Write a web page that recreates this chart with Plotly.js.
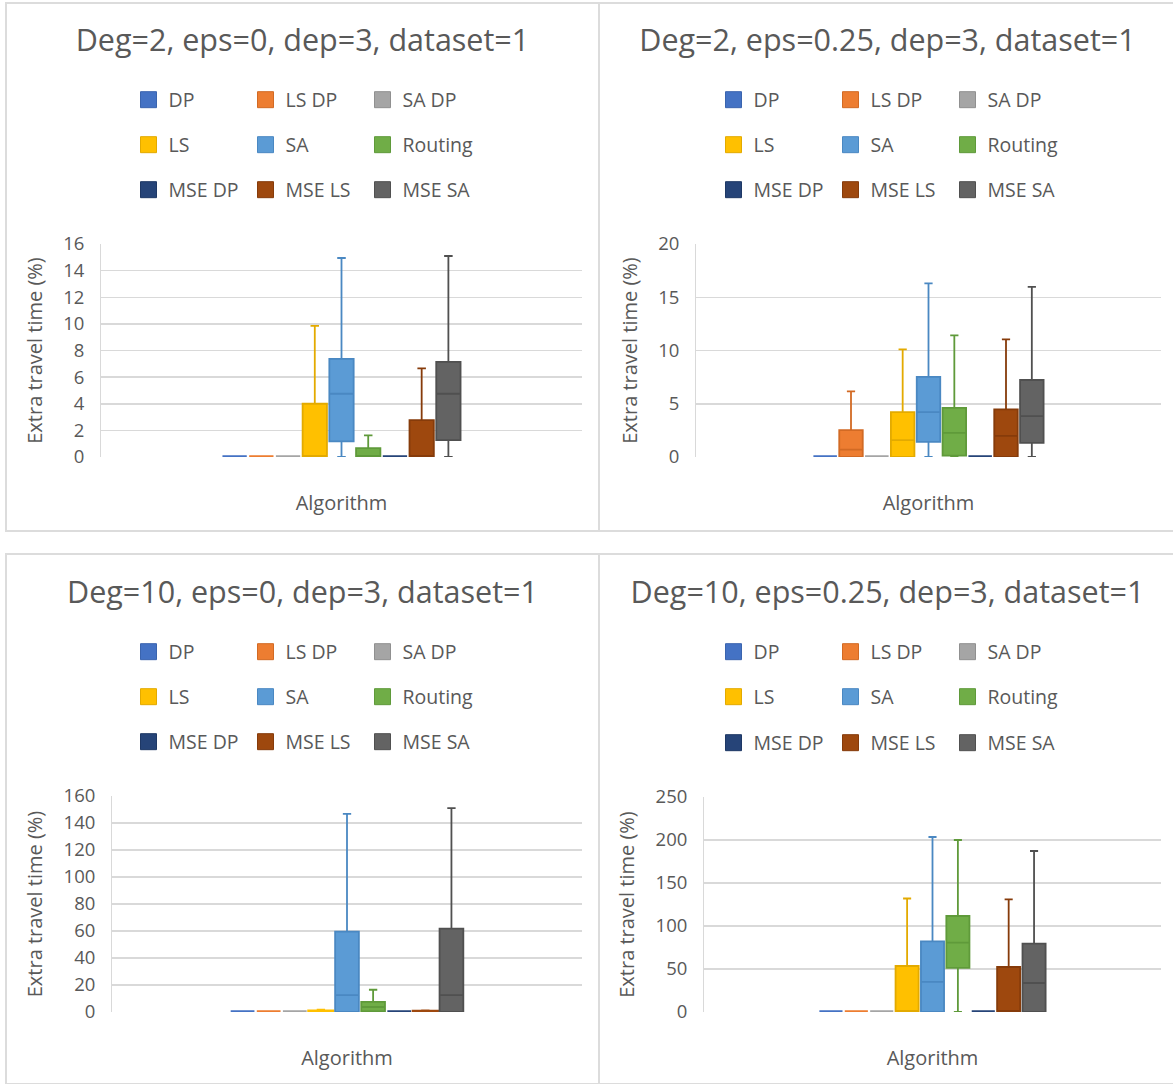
<!DOCTYPE html>
<html><head><meta charset="utf-8">
<script src="https://cdn.plot.ly/plotly-3.0.1.min.js"></script>
<style>
html,body{margin:0;padding:0;background:#fff;overflow:hidden;width:1173px;height:1084px;}
.panel{position:absolute;box-sizing:border-box;border:2px solid #dcdcdc;background:#fff;overflow:hidden;}
</style></head><body>
<div class="panel" style="left:5px;top:2px;width:595px;height:530px;"><div id="p1"></div></div>
<div class="panel" style="left:598px;top:2px;width:579px;height:530px;"><div id="p2"></div></div>
<div class="panel" style="left:5px;top:553px;width:595px;height:532px;"><div id="p3"></div></div>
<div class="panel" style="left:598px;top:553px;width:579px;height:532px;"><div id="p4"></div></div>
<script>
// ---------- data ----------
const SERIES = ['DP', 'LS DP', 'SA DP', 'LS', 'SA', 'Routing', 'MSE DP', 'MSE LS', 'MSE SA'];
const CATEGORY = ['Algorithm'];
const X_TITLE = 'Algorithm';
const Y_TITLE = 'Extra travel time (%)';

// Panel 1: Deg=2, eps=0
const p1Title = 'Deg=2, eps=0, dep=3, dataset=1';
const p1Min = [0, 0, 0, 0, 0, 0, 0, 0, 0];
const p1Q1  = [0, 0, 0, 0, 1.17, 0, 0, 0, 1.27];
const p1Med = [0, 0, 0, 0, 4.75, 0, 0, 0, 4.75];
const p1Q3  = [0, 0, 0, 4.0, 7.37, 0.67, 0, 2.77, 7.15];
const p1Max = [0, 0, 0, 9.85, 14.95, 1.62, 0, 6.65, 15.1];
const p1Ticks = [0, 2, 4, 6, 8, 10, 12, 14, 16];

// Panel 2: Deg=2, eps=0.25
const p2Title = 'Deg=2, eps=0.25, dep=3, dataset=1';
const p2Min = [0, 0, 0, 0, 0, 0, 0, 0, 0];
const p2Q1  = [0, 0, 0, 0, 1.42, 0.13, 0, 0, 1.32];
const p2Med = [0, 0.7, 0, 1.58, 4.22, 2.27, 0, 1.98, 3.84];
const p2Q3  = [0, 2.52, 0, 4.22, 7.52, 4.62, 0, 4.47, 7.23];
const p2Max = [0, 6.17, 0, 10.1, 16.3, 11.42, 0, 11.04, 15.98];
const p2Ticks = [0, 5, 10, 15, 20];

// Panel 3: Deg=10, eps=0
const p3Title = 'Deg=10, eps=0, dep=3, dataset=1';
const p3Min = [0, 0, 0, 0, 0, 0, 0, 0, 0];
const p3Q1  = [0, 0, 0, 0, 0, 0.5, 0, 0, 0];
const p3Med = [0, 0, 0, 0, 12.5, 3.7, 0, 0, 12.5];
const p3Q3  = [0, 0, 0, 0.6, 59.5, 7.5, 0, 0.3, 61.7];
const p3Max = [0, 0, 0, 1.2, 146.8, 16.5, 0, 0.6, 151];
const p3Ticks = [0, 20, 40, 60, 80, 100, 120, 140, 160];

// Panel 4: Deg=10, eps=0.25
const p4Title = 'Deg=10, eps=0.25, dep=3, dataset=1';
const p4Min = [0, 0, 0, 0, 0, 0, 0, 0, 0];
const p4Q1  = [0, 0, 0, 0, 0, 51.2, 0, 0, 0];
const p4Med = [0, 0, 0, 0, 35, 80.7, 0, 0, 33.7];
const p4Q3  = [0, 0, 0, 53.5, 82.2, 111.6, 0, 52.3, 79.5];
const p4Max = [0, 0, 0, 132, 203.5, 200, 0, 131, 187.2];
const p4Ticks = [0, 50, 100, 150, 200, 250];

// ---------- style ----------
const FILL = ['#4472C4', '#ED7D31', '#A5A5A5', '#FFC000', '#5B9BD5', '#70AD47', '#264478', '#9E480E', '#636363'];
const EDGE = ['#3A64AE', '#D26A24', '#909090', '#E3AA00', '#4A88C2', '#5F9A3A', '#1E3865', '#863B0A', '#505050'];
const TXT = '#595959';
const GRID = '#d9d9d9';
const FONT = 'Open Sans, sans-serif';

function legendRow(row, cfg) {
  return {
    orientation: 'h', xref: 'container', yref: 'container',
    x: cfg.legX / cfg.W, xanchor: 'left',
    y: 1 - cfg.legY[row] / cfg.H, yanchor: 'middle',
    entrywidth: 72, entrywidthmode: 'pixels', itemsizing: 'trace',
    font: {family: FONT, size: 19.5, color: TXT},
    bgcolor: 'rgba(0,0,0,0)', borderwidth: 0, traceorder: 'normal'
  };
}

function makePanel(id, d, cfg) {
  const legendIds = ['legend', 'legend2', 'legend3'];
  const boxes = SERIES.map((name, i) => {
    const flat = d.q3[i] - d.q1[i] < 0.01 * d.ticks[d.ticks.length - 1];
    return {
      type: 'box', name: name, x: CATEGORY,
      q1: [d.q1[i]], median: [d.med[i]], q3: [d.q3[i]],
      lowerfence: [d.min[i]], upperfence: [d.max[i]],
      fillcolor: FILL[i], line: {color: flat ? FILL[i] : EDGE[i], width: flat ? 3.5 : 1.8},
      whiskerwidth: 0.35, boxpoints: false, hoverinfo: 'skip',
      showlegend: false
    };
  });
  // legend keys (square swatches like the original), no data drawn
  const keys = SERIES.map((name, i) => ({
    type: 'scatter', mode: 'markers', name: name, x: [null], y: [null],
    marker: {symbol: 'square', size: 16, color: FILL[i], line: {color: EDGE[i], width: 1}},
    hoverinfo: 'skip', showlegend: true, legend: legendIds[Math.floor(i / 3)]
  }));
  const ticks = d.ticks;
  const layout = {
    width: cfg.W, height: cfg.H,
    margin: {l: cfg.l, r: cfg.r, t: cfg.t, b: cfg.b, pad: 0},
    paper_bgcolor: '#ffffff', plot_bgcolor: '#ffffff',
    font: {family: FONT, color: TXT},
    title: {text: d.title, xref: 'container', yref: 'container', x: 0.5, xanchor: 'center',
            y: 1 - cfg.titleY / cfg.H, yanchor: 'middle', font: {family: FONT, size: 30.5, color: TXT}},
    boxmode: 'group', boxgap: 0.5, boxgroupgap: 0.09,
    showlegend: true,
    legend: legendRow(0, cfg), legend2: legendRow(1, cfg), legend3: legendRow(2, cfg),
    xaxis: {type: 'category', range: [-0.5, 0.5], showticklabels: false, showgrid: false,
            zeroline: false, showline: false, ticks: '', fixedrange: true,
            title: {text: X_TITLE, font: {family: FONT, size: 20, color: TXT}, standoff: cfg.xStand}},
    yaxis: {range: [ticks[0], ticks[ticks.length - 1]], tickvals: ticks, ticktext: ticks.map(String),
            showgrid: true, gridcolor: GRID, gridwidth: 1.5, zeroline: false,
            showline: true, linecolor: GRID, linewidth: 1,
            ticks: 'outside', ticklen: 12, tickcolor: 'rgba(0,0,0,0)',
            tickfont: {family: FONT, size: 18.5, color: TXT}, fixedrange: true,
            title: {text: Y_TITLE, font: {family: FONT, size: 20, color: TXT}, standoff: cfg.yStand}}
  };
  Plotly.newPlot(id, boxes.concat(keys), layout, {staticPlot: true, displayModeBar: false});
}

makePanel('p1', {title: p1Title, min: p1Min, q1: p1Q1, med: p1Med, q3: p1Q3, max: p1Max, ticks: p1Ticks},
  {W: 591, H: 526, l: 94, r: 16, t: 240, b: 73, legX: 121.5, legY: [96, 141, 186], titleY: 36, xStand: 38, yStand: 15});
makePanel('p2', {title: p2Title, min: p2Min, q1: p2Q1, med: p2Med, q3: p2Q3, max: p2Max, ticks: p2Ticks},
  {W: 575, H: 526, l: 96, r: 14, t: 240, b: 73, legX: 113.5, legY: [96, 141, 186], titleY: 36, xStand: 38, yStand: 15});
makePanel('p3', {title: p3Title, min: p3Min, q1: p3Q1, med: p3Med, q3: p3Q3, max: p3Max, ticks: p3Ticks},
  {W: 591, H: 528, l: 105, r: 16, t: 241, b: 71, legX: 121.5, legY: [97, 142, 187], titleY: 37, xStand: 38, yStand: 15});
makePanel('p4', {title: p4Title, min: p4Min, q1: p4Q1, med: p4Med, q3: p4Q3, max: p4Max, ticks: p4Ticks},
  {W: 575, H: 528, l: 104, r: 14, t: 242, b: 71, legX: 113.5, legY: [97, 142, 188], titleY: 37, xStand: 38, yStand: 15});
</script>
</body></html>
